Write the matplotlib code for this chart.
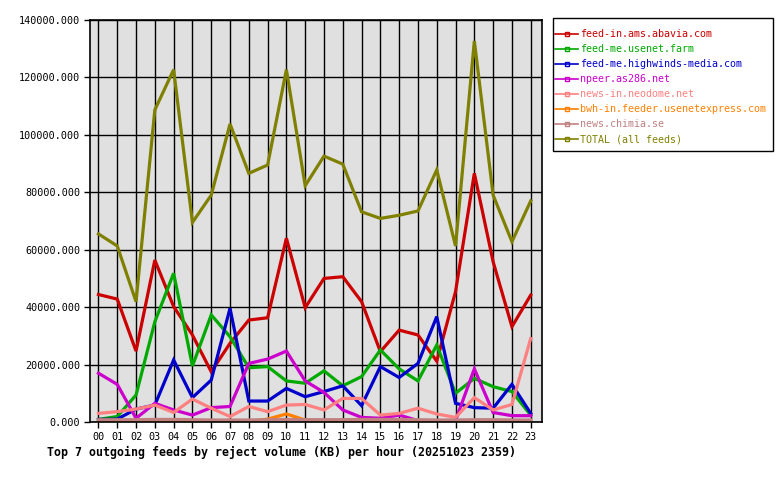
import numpy as np
import matplotlib as mpl
mpl.use('Agg')
from matplotlib import pyplot as plt
from matplotlib.lines import Line2D
from matplotlib.patches import Rectangle

hours = ['%02d' % h for h in range(24)]

feed_names = [
    'feed-in.ams.abavia.com',
    'feed-me.usenet.farm',
    'feed-me.highwinds-media.com',
    'npeer.as286.net',
    'news-in.neodome.net',
    'bwh-in.feeder.usenetexpress.com',
    'news.chimia.se',
    'TOTAL (all feeds)',
]
feed_colors = ['#cc0000', '#00aa00', '#0000cc', '#cc00cc',
               '#ff8080', '#ff8000', '#c08080', '#808000']

abavia = [44400, 42800, 24700, 56400, 40200, 30300, 17500, 27400, 35500, 36300, 64000, 39800,
          50000, 50600, 41900, 24500, 32000, 30300, 21200, 45400, 86600, 55800, 33200, 44200]
usenet_farm = [900, 1900, 9400, 34900, 51800, 19500, 37300, 29700, 18900, 19300, 14300, 13500,
               17800, 12600, 15800, 25100, 18500, 14300, 26800, 10000, 15200, 12300, 10600, 2400]
highwinds = [900, 1000, 4500, 5900, 21600, 8500, 14600, 39600, 7300, 7300, 11700, 8800,
             10600, 12600, 5700, 19300, 15500, 20400, 36700, 6500, 5000, 4800, 13100, 3000]
npeer = [17000, 13100, 1300, 6500, 4200, 2400, 5000, 5400, 20400, 21900, 24700, 14300,
         10300, 4200, 1600, 1300, 2400, 500, 300, 500, 18500, 3300, 2200, 2200]
neodome = [3000, 3600, 4500, 5900, 3300, 8000, 4800, 1900, 5400, 3600, 5900, 6100,
           4200, 8200, 8200, 2400, 3000, 4800, 2800, 1600, 8500, 4200, 6100, 29100]
usenetexpress = [200, 200, 200, 300, 300, 200, 400, 300, 200, 1000, 2800, 700,
                 500, 600, 300, 500, 300, 200, 200, 200, 300, 300, 200, 200]
chimia = [800, 800, 800, 900, 900, 800, 700, 700, 700, 800, 900, 800,
          800, 800, 900, 900, 900, 800, 700, 700, 800, 800, 700, 700]
total = [65500, 61300, 41900, 108700, 122700, 69500, 79000, 103800, 86600, 89500, 122700, 82300,
         92600, 89800, 73200, 70900, 72000, 73500, 87800, 61300, 132700, 79000, 62800, 77000]

series = [abavia, usenet_farm, highwinds, npeer, neodome, usenetexpress, chimia, total]
y_ticks = np.arange(0, 140001, 20000)

plt.rcParams['font.family'] = ['DejaVu Sans Mono']

fig = plt.figure(figsize=(7.8, 4.8), dpi=100)
ax = fig.add_axes([90 / 780, 1 - 422 / 480, 452 / 780, 402 / 480])
ax.set_facecolor('#e0e0e0')

x = np.arange(len(hours))
for vals, color in zip(series, feed_colors):
    ax.plot(x, vals, color=color, linewidth=2.3, solid_joinstyle='miter')

ax.set_xlim(-0.45, 23.6)
ax.set_ylim(0, 140000)
ax.set_xticks(x)
ax.set_xticklabels(hours, fontsize=7.3)
ax.set_yticks(y_ticks)
ax.set_yticklabels(['%.3f' % v for v in y_ticks], fontsize=7.3)
ax.tick_params(direction='out', length=4, width=1, color='black', pad=3)
ax.grid(True, color='black', linewidth=1)
ax.set_axisbelow(True)
for s in ax.spines.values():
    s.set_linewidth(1.2)

# legend box drawn by hand, entries placed inside without a frame
fig.patches.append(Rectangle((553 / 780, 1 - 151 / 480), 220 / 780, 133 / 480,
                             transform=fig.transFigure, facecolor='white',
                             edgecolor='black', linewidth=1, zorder=1))
handles = [Line2D([0], [0], color=c, linewidth=1.2, marker='s', markersize=3,
                  markerfacecolor='none', markeredgecolor=c) for c in feed_colors]
leg = fig.legend(handles, feed_names, loc='upper left',
                 bbox_to_anchor=(555 / 780, 1 - 29 / 480), fontsize=7.2,
                 frameon=False, handlelength=2.3, handletextpad=0.2,
                 labelspacing=0.5, borderpad=0, borderaxespad=0)
for txt, c in zip(leg.get_texts(), feed_colors):
    txt.set_color(c)

fig.text(47 / 780, 1 - 452 / 480,
         'Top 7 outgoing feeds by reject volume (KB) per hour (20251023 2359)',
         fontsize=8.35, fontweight='bold', ha='left', va='center')

fig.savefig('out.png', dpi=100)
